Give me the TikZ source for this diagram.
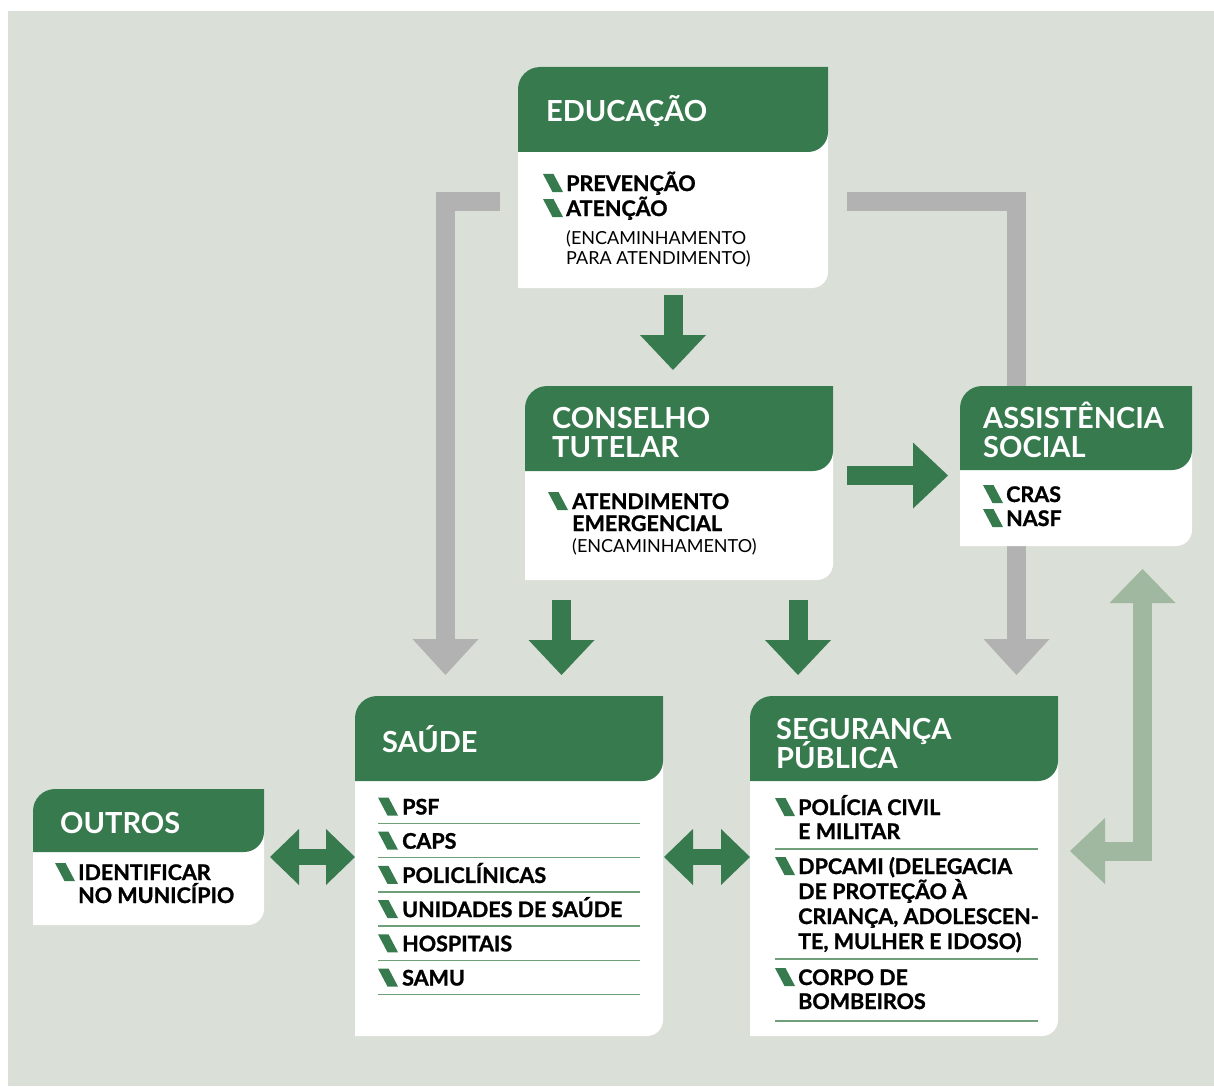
\documentclass[tikz,border=0pt]{standalone}
\usepackage{fontspec}
\setmainfont{Lato}
\newfontfamily\heavyfont{Lato}[BoldFeatures={FakeBold=1.2}]
\usetikzlibrary{arrows.meta}
\definecolor{bggray}{RGB}{218,223,216}
\definecolor{dkgreen}{RGB}{55,122,78}
\definecolor{arrowgray}{RGB}{178,178,178}
\definecolor{palegreen}{RGB}{160,184,159}
\definecolor{rulegreen}{RGB}{112,160,122}
\tikzset{
  panel/.style={anchor=north west, inner sep=0pt, outer sep=0pt},
  title/.style={anchor=base west, inner sep=0pt, text=white, font=\fontsize{29}{30}\selectfont\bfseries},
  item/.style={anchor=base west, inner sep=0pt, font=\fontsize{21.5}{23}\selectfont\heavyfont\bfseries},
  note/.style={anchor=base west, inner sep=0pt, font=\fontsize{18}{20}\selectfont},
  rule/.style={draw=rulegreen, line width=1.3pt},
  grayarrow/.style={draw=arrowgray, line width=19pt, -{Triangle[width=66pt,length=36pt,line width=0pt]}},
  greenarrow/.style={draw=dkgreen, line width=19pt, -{Triangle[width=66pt,length=35pt,line width=0pt]}},
  twoway/.style={draw=dkgreen, line width=16pt, {Triangle[width=56pt,length=29pt,line width=0pt]}-{Triangle[width=56pt,length=29pt,line width=0pt]}},
  backarrow/.style={draw=palegreen, line width=19pt, {Triangle[width=66pt,length=34pt,line width=0pt]}-{Triangle[width=66pt,length=35pt,line width=0pt]}},
  slash/.pic={\fill[dkgreen] (0,0) -- (10.5,0) -- (20,-18) -- (9.5,-18) -- cycle;}
}
\begin{document}
\begin{tikzpicture}[x=1pt,y=1pt]
    \useasboundingbox (0,0) rectangle (1214,-1086);
    \fill[white] (0,0) rectangle (1214,-1086);
    \fill[bggray] (8,-11) rectangle (1214,-1086); % background
    % boxes and headers
    \node[panel, minimum width=310pt, minimum height=221pt] (edu) at (518,-67) {};
    \node[panel, minimum width=310pt, minimum height=85pt] (edu-h) at (518,-67) {};
    \node[panel, minimum width=308pt, minimum height=194pt] (ct) at (525,-386) {};
    \node[panel, minimum width=308pt, minimum height=85pt] (ct-h) at (525,-386) {};
    \node[panel, minimum width=232pt, minimum height=160pt] (as) at (960,-386) {};
    \node[panel, minimum width=232pt, minimum height=84pt] (as-h) at (960,-386) {};
    \node[panel, minimum width=308pt, minimum height=340pt] (sau) at (355,-696) {};
    \node[panel, minimum width=308pt, minimum height=85pt] (sau-h) at (355,-696) {};
    \node[panel, minimum width=308pt, minimum height=340pt] (seg) at (750,-696) {};
    \node[panel, minimum width=308pt, minimum height=85pt] (seg-h) at (750,-696) {};
    \node[panel, minimum width=231pt, minimum height=136pt] (out) at (33,-789) {};
    \node[panel, minimum width=231pt, minimum height=63pt] (out-h) at (33,-789) {};

    % arrows
    \draw[grayarrow, shorten <=18pt, shorten >=21pt] ([yshift=-24pt]edu.west) -| ([xshift=90.5pt]sau.north west);
    \draw[grayarrow, shorten <=19pt, shorten >=21pt] ([yshift=-24pt]edu.east) -| ([xshift=-41.5pt]seg.north east);
    \draw[greenarrow, shorten <=7pt, shorten >=16pt] (edu.south) -- (edu.south |- ct.north);
    \draw[greenarrow, shorten <=14pt, shorten >=12pt] ([yshift=7.5pt]ct.east) -- ([yshift=-9.5pt]as.west);
    \coordinate (ctl) at ([xshift=36.5pt]ct.south west);
    \coordinate (ctr) at ([xshift=-35pt]ct.south east);
    \draw[greenarrow, shorten <=20pt, shorten >=21pt] (ctl) -- (ctl |- sau.north);
    \draw[greenarrow, shorten <=20pt, shorten >=21pt] (ctr) -- (ctr |- seg.north);
    \draw[twoway, shorten <=6pt] (out.east) -- (out.east -| sau.west);
    \draw[twoway, shorten <=1pt] ([yshift=9pt]sau.east) -- ([yshift=9pt]seg.west);
    \draw[backarrow, shorten <=23pt, shorten >=12pt] ([xshift=-49.5pt]as.south east) |- ([yshift=15pt]seg.east);

    \foreach \bx in {edu,ct,as,sau,seg,out}{
        \fill[white] (\bx.south west) -- ([yshift=-22pt]\bx.north west) arc[start angle=180,end angle=90,radius=22pt]
            -- (\bx.north east) -- ([yshift=16pt]\bx.south east) arc[start angle=0,end angle=-90,radius=16pt] -- cycle;
        \fill[dkgreen] (\bx-h.south west) -- ([yshift=-22pt]\bx-h.north west) arc[start angle=180,end angle=90,radius=22pt]
            -- (\bx-h.north east) -- ([yshift=20pt]\bx-h.south east) arc[start angle=0,end angle=-90,radius=20pt] -- cycle;
    }

    % educacao
    \node[title] (edut) at (546,-122) {EDUCAÇÃO};
    \node[item] (edu1) at (566,-191) {PREVENÇÃO};
    \node[item] (edu2) at (566,-216) {ATENÇÃO};
    \node[note] (edu3) at (566,-244) {(ENCAMINHAMENTO};
    \node[note] (edu4) at (566,-264) {PARA ATENDIMENTO)};
    \pic at ([shift={(-23,17)}]edu1.base west) {slash};
    \pic at ([shift={(-23,17)}]edu2.base west) {slash};

    % conselho tutelar
    \node[title] (ctt1) at (552,-428) {CONSELHO};
    \node[title] (ctt2) at (552,-457) {TUTELAR};
    \node[item] (ct1) at (572,-509) {ATENDIMENTO};
    \node[item] (ct2) at (572,-531) {EMERGENCIAL};
    \node[note] (ct3) at (572,-552) {(ENCAMINHAMENTO)};
    \pic at ([shift={(-24,17)}]ct1.base west) {slash};

    % assistencia social
    \node[title] (ast1) at (983,-428) {ASSISTÊNCIA};
    \node[title] (ast2) at (983,-457) {SOCIAL};
    \node[item] (as1) at (1006,-502) {CRAS};
    \node[item] (as2) at (1006,-526) {NASF};
    \pic at ([shift={(-23,17)}]as1.base west) {slash};
    \pic at ([shift={(-23,17)}]as2.base west) {slash};

    % saude
    \node[title] (saut) at (382,-752) {SAÚDE};
    \foreach \txt [count=\i] in {PSF,CAPS,POLICLÍNICAS,UNIDADES DE SAÚDE,HOSPITAIS,SAMU}{
        \node[item] (sau\i) at (402,{-814.5-34.2*(\i-1)}) {\txt};
        \pic at ([shift={(-24,17)}]sau\i.base west) {slash};
        \draw[rule] ([shift={(-24,-9)}]sau\i.base west) -- ++(262,0);
    }

    % seguranca publica
    \node[title] (segt1) at (776,-739) {SEGURANÇA};
    \node[title] (segt2) at (776,-768) {PÚBLICA};
    \node[item] (seg1) at (798,-815) {POLÍCIA CIVIL};
    \node[item] (seg2) at (798,-839) {E MILITAR};
    \node[item] (seg3) at (798,-874) {DPCAMI (DELEGACIA};
    \node[item] (seg4) at (798,-899) {DE PROTEÇÃO À};
    \node[item] (seg5) at (798,-924) {CRIANÇA, ADOLESCEN-};
    \node[item] (seg6) at (798,-949) {TE, MULHER E IDOSO)};
    \node[item] (seg7) at (798,-985) {CORPO DE};
    \node[item] (seg8) at (798,-1009) {BOMBEIROS};
    \foreach \i in {1,3,7}
        \pic at ([shift={(-23,17)}]seg\i.base west) {slash};
    \draw[rule] (775,-849) -- (1038,-849);
    \draw[rule] (775,-959) -- (1038,-959);
    \draw[rule] (775,-1021) -- (1038,-1021);

    % outros
    \node[title] (outt) at (60,-833) {OUTROS};
    \node[item] (out1) at (78,-880) {IDENTIFICAR};
    \node[item] (out2) at (78,-903) {NO MUNICÍPIO};
    \pic at ([shift={(-23,17)}]out1.base west) {slash};
\end{tikzpicture}
\end{document}
